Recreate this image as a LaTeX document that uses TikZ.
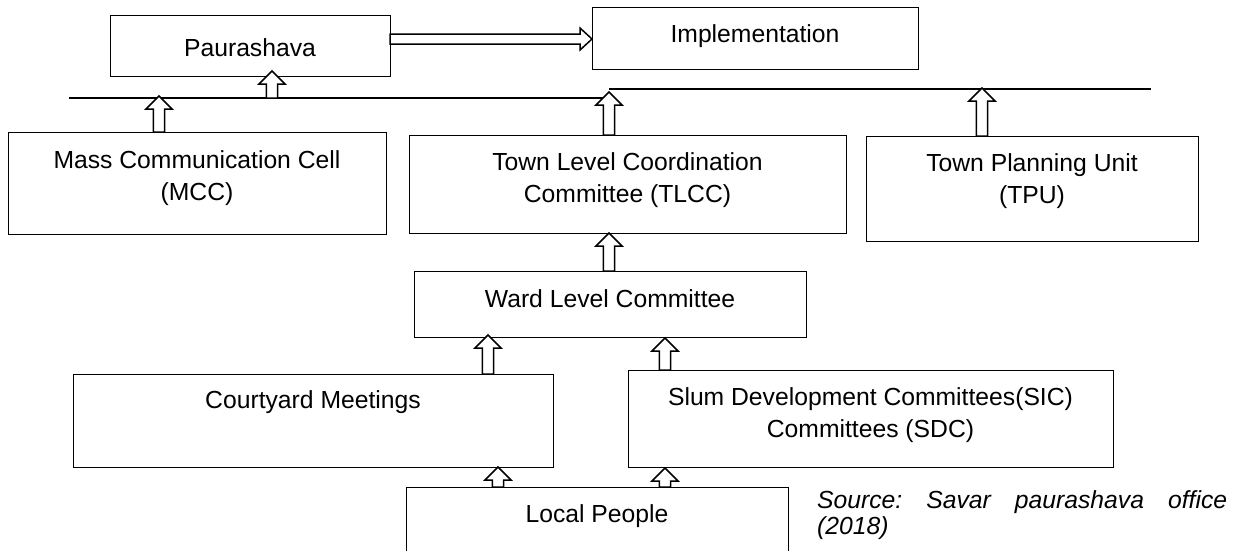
\documentclass[tikz,border=0pt]{standalone}
\usepackage{fontspec}
\setmainfont{Liberation Sans}
\usetikzlibrary{calc}
\newcommand\bxfont{\fontsize{24.7}{32}\selectfont}
\newcommand\srcfont{\fontsize{24.7}{26}\selectfont\itshape}
\newcommand\boxcontent[4]{\parbox[c][#2pt][t]{#1pt}{\centering\rule{0pt}{#3pt}#4}}
\newcommand\blockup[2]{%
  \path[barrow] let \p1=(#1), \p2=(#2) in
   (\x1-5.6pt,\y1) -- (\x1-5.6pt,\y2-13pt) -- (\x1-13pt,\y2-13pt) -- (\x1,\y2)
   -- (\x1+13pt,\y2-13pt) -- (\x1+5.6pt,\y2-13pt) -- (\x1+5.6pt,\y1) -- cycle;}
\newcommand\blockright[2]{%
  \path[barrow] let \p1=(#1), \p2=(#2) in
   (\x1,\y2+5pt) -- (\x2-12pt,\y2+5pt) -- (\x2-12pt,\y2+11pt) -- (\x2,\y2)
   -- (\x2-12pt,\y2-11pt) -- (\x2-12pt,\y2-5pt) -- (\x1,\y2-5pt) -- cycle;}
\begin{document}
\begin{tikzpicture}[x=1pt,y=-1pt,
  box/.style={draw=black, line width=0.9pt, inner sep=0pt, outer sep=0pt, font=\bxfont},
  barrow/.style={draw=black, fill=white, line width=1.5pt, line join=miter},
  bus/.style={draw=black, line width=1.3pt}]
\useasboundingbox (0,0) rectangle (1236,550);
\clip (0,0) rectangle (1236,550);

\node[box] (paur) at (250,45.5) {\boxcontent{280}{61}{41}{Paurashava}};
\node[box] (impl) at (755,38) {\boxcontent{326}{62}{35}{Implementation}};
\node[box] (mcc) at (197,183) {\boxcontent{378}{102}{36}{Mass Communication Cell\\(MCC)}};
\node[box] (tlcc) at (627.5,184) {\boxcontent{437}{98}{35}{Town Level Coordination\\Committee (TLCC)}};
\node[box] (tpu) at (1032,188.5) {\boxcontent{332}{105}{35}{Town Planning Unit\\(TPU)}};
\node[box] (wlc) at (610,304) {\boxcontent{392}{66}{36}{Ward Level Committee}};
\node[box] (court) at (313,420.5) {\boxcontent{480}{93}{34}{Courtyard Meetings}};
\node[box] (sdc) at (870.5,418.5) {\boxcontent{485}{97}{35}{Slum Development Committees(SIC)\\Committees (SDC)}};
\node[box] (local) at (597,527) {\boxcontent{382}{80}{35}{Local People}};

\node[anchor=base west, inner sep=0pt, font=\srcfont] (src) at (817,508)
  {\parbox[t]{410pt}{Source:\hfill Savar\hfill paurashava\hfill office\\(2018)}};

% bus line
\coordinate (busA) at (69,98);
\coordinate (busB) at (606,98);
\coordinate (busC) at (609,89);
\coordinate (busD) at (1151,89);
\draw[bus] (busA) -- (busB);
\draw[bus] (busC) -- (busD);

% arrows
\blockright{paur.east}{$(impl.west)+(0,1)$}
\blockup{$(mcc.north)+(-38,0)$}{$(busA)+(0,-2)$}
\coordinate (pa) at ($(paur.south)+(22,0)$);
\blockup{pa |- busA}{$(paur.south)+(0,-5)$}
\blockup{$(tlcc.north)+(-18.5,0)$}{$(busC)+(0,3)$}
\blockup{$(tpu.north)+(-50,0)$}{$(busD)+(0,-1)$}
\blockup{$(wlc.north)+(-1,0)$}{tlcc.south}
\blockup{$(court.north)+(175,0)$}{$(wlc.south)+(0,-2)$}
\blockup{$(sdc.north)+(-205.5,0)$}{$(wlc.south)+(0,1)$}
\blockup{$(local.north)+(-99,0)$}{court.south}
\blockup{$(local.north)+(68,0)$}{$(sdc.south)+(0,1)$}
\end{tikzpicture}
\end{document}
